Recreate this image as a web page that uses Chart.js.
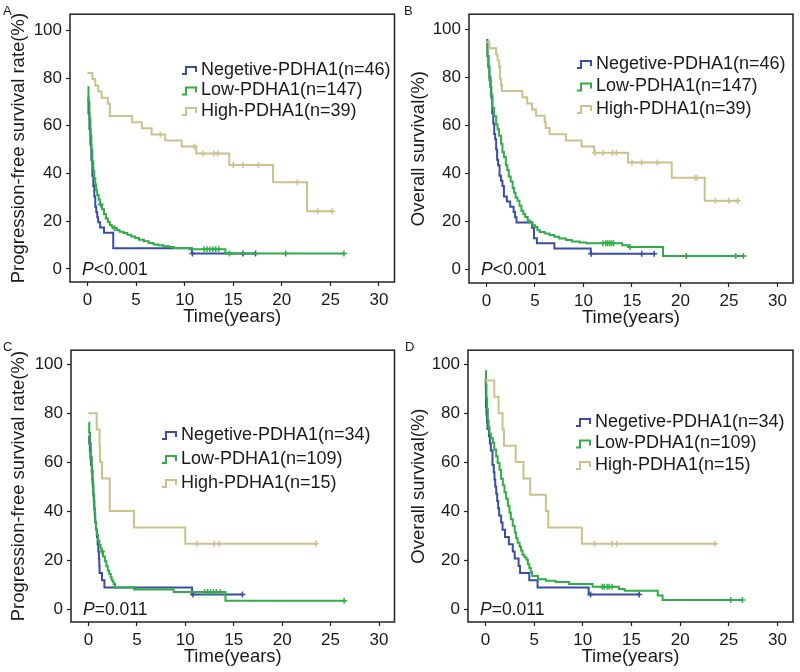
<!DOCTYPE html>
<html>
<head>
<meta charset="utf-8">
<title>PDHA1 survival curves</title>
<script src="https://cdn.jsdelivr.net/npm/chart.js@4.4.1/dist/chart.umd.min.js"></script>
<style>
  body { margin: 0; background: #fff; }
  #wrap { position: relative; width: 800px; height: 672px; }
  canvas { position: absolute; }
</style>
</head>
<body>
<div id="wrap">
  <canvas id="panelA" width="400" height="336" style="left:0;top:0"></canvas>
  <canvas id="panelB" width="400" height="336" style="left:400px;top:0"></canvas>
  <canvas id="panelC" width="400" height="336" style="left:0;top:336px"></canvas>
  <canvas id="panelD" width="400" height="336" style="left:400px;top:336px"></canvas>
</div>
<script>
const xTicks = [0, 5, 10, 15, 20, 25, 30]
const yTicks = [0, 20, 40, 60, 80, 100]

// A: progression-free survival, cohort 1
const aNegT = [0, 0.1, 0.2, 0.3, 0.4, 0.5, 0.6, 0.7, 0.8, 0.9, 1.0, 1.1, 1.3, 1.7, 2.65, 10.75, 17.3]
const aNegS = [71.7, 65.2, 58.7, 52.2, 45.7, 39.1, 34.8, 30.4, 26.1, 23.9, 21.7, 19.6, 17.4, 15.2, 8.7, 6.5, 6.5]
const aNegCens = [10.8, 16.0, 17.3]
const aLowT = [0, 0.1, 0.2, 0.3, 0.4, 0.5, 0.6, 0.7, 0.8, 0.9, 1.0, 1.15, 1.3, 1.5, 1.7, 1.9, 2.1, 2.3, 2.5, 2.7, 3.0, 3.3, 3.7, 4.1, 4.5, 4.9, 5.3, 5.8, 6.3, 6.8, 7.3, 7.8, 8.4, 8.9, 10.5, 14.2, 26.4]
const aLowS = [76.2, 70, 63, 56, 50, 45, 41, 38, 35.4, 33, 31, 29, 27, 25, 23, 21.1, 19.7, 18.4, 17.7, 17.0, 16.3, 15.6, 15.0, 14.3, 13.6, 12.9, 12.2, 11.6, 10.9, 10.2, 9.9, 9.5, 9.2, 8.8, 8.2, 6.5, 6.5]
const aLowCens = [1.35, 2.8, 12.0, 12.3, 12.6, 12.9, 13.2, 13.5, 14.6, 20.4, 26.4]
const aHighT = [0, 0.5, 0.8, 1.1, 1.45, 2.1, 2.3, 4.6, 5.6, 6.6, 8.0, 9.7, 11.2, 14.6, 19.1, 22.6, 25.2]
const aHighS = [82.1, 79.5, 76.9, 74.4, 71.8, 69.2, 64.1, 61.5, 59.0, 56.4, 53.8, 51.3, 48.4, 43.6, 36.3, 24.2, 24.2]
const aHighCens = [7.5, 11.0, 11.9, 13.0, 13.4, 15.0, 16.0, 17.6, 21.6, 23.7, 25.2]

// B: overall survival, cohort 1
const bNegT = [0, 0.1, 0.2, 0.3, 0.4, 0.5, 0.6, 0.7, 0.8, 0.9, 1.0, 1.1, 1.2, 1.35, 1.5, 1.65, 1.8, 2.1, 2.45, 2.8, 2.95, 3.1, 4.7, 4.9, 5.2, 7.0, 10.75, 17.3]
const bNegS = [95.7, 89.1, 84.8, 80.4, 76.1, 71.7, 65.2, 60.9, 56.5, 54.3, 50.0, 45.7, 43.5, 39.1, 37.0, 34.8, 30.4, 28.3, 26.1, 23.9, 21.7, 19.6, 17.4, 13.0, 10.9, 8.7, 6.5, 6.5]
const bNegCens = [10.8, 16.0, 17.3]
const bLowT = [0, 0.1, 0.2, 0.3, 0.45, 0.6, 0.8, 1.0, 1.15, 1.3, 1.5, 1.65, 1.8, 2.0, 2.15, 2.3, 2.5, 2.7, 2.85, 3.0, 3.2, 3.4, 3.6, 3.8, 4.0, 4.25, 4.5, 4.75, 5.0, 5.25, 5.5, 6.0, 6.5, 7.0, 7.5, 8.2, 8.8, 9.6, 10.3, 14.0, 14.6, 18.2, 26.5]
const bLowS = [95.2, 89.1, 84, 79, 72.8, 67.3, 63.9, 60.5, 58.5, 55.8, 52.4, 49.0, 46.9, 43.5, 41.5, 38.8, 36.7, 34.0, 32.0, 30.0, 28.6, 26.5, 24.5, 23.1, 21.8, 20.4, 19.7, 18.4, 17.7, 16.3, 15.6, 15.0, 14.3, 13.6, 12.9, 12.2, 11.6, 11.2, 10.9, 10.1, 9.3, 5.6, 5.6]
const bLowCens = [12.0, 12.3, 12.5, 12.7, 12.9, 13.1, 14.8, 20.6, 25.7, 26.5]
const bHighT = [0, 0.3, 1.0, 1.15, 1.3, 1.4, 1.5, 1.6, 3.7, 4.2, 4.7, 5.1, 6.0, 6.1, 6.5, 8.2, 9.8, 11.1, 14.6, 19.1, 22.5, 26.0]
const bHighS = [94.9, 92.3, 89.7, 87.2, 84.6, 79.5, 76.9, 74.4, 71.8, 69.2, 66.7, 64.1, 61.5, 59.0, 56.4, 53.8, 51.3, 48.7, 44.6, 38.2, 28.6, 28.6]
const bHighCens = [11.2, 12.0, 13.0, 13.4, 15.0, 16.0, 17.6, 21.5, 21.7, 23.6, 25.0, 25.9]

// C: progression-free survival, cohort 2
const cNegT = [0, 0.08, 0.15, 0.2, 0.27, 0.35, 0.4, 0.45, 0.5, 0.55, 0.6, 0.65, 0.7, 0.8, 0.88, 0.95, 1.02, 1.08, 1.12, 1.15, 1.4, 1.65, 10.7, 15.9]
const cNegS = [70.6, 67.6, 64.7, 61.8, 58.8, 55.9, 52.9, 50.0, 47.1, 44.1, 41.2, 38.2, 35.3, 32.4, 29.4, 26.5, 23.5, 20.6, 17.6, 14.7, 11.8, 8.8, 5.9, 5.9]
const cNegCens = [10.8, 15.9]
const cLowT = [0, 0.08, 0.17, 0.25, 0.35, 0.43, 0.51, 0.6, 0.69, 0.78, 0.86, 1.0, 1.13, 1.25, 1.36, 1.5, 1.7, 1.85, 2.0, 2.15, 2.3, 2.4, 2.5, 2.6, 2.75, 4.7, 8.8, 14.15, 26.4]
const cLowS = [76.1, 72, 67.6, 62, 56.9, 51.5, 46.3, 41, 35.6, 32.5, 30.2, 28, 26.2, 24.8, 23.5, 21.5, 19.5, 17.5, 15.6, 14.3, 13.0, 12.0, 11.1, 10.2, 8.8, 8.0, 7.0, 3.4, 3.4]
const cLowCens = [1.4, 12.0, 12.3, 12.6, 12.9, 13.2, 13.6, 26.4]
const cHighT = [0, 0.85, 1.15, 1.2, 1.4, 2.2, 4.7, 10.0, 23.5]
const cHighS = [80, 73.3, 66.7, 60, 53.3, 40, 33.3, 26.7, 26.7]
const cHighCens = [11.2, 13.0, 13.5, 23.5]

// D: overall survival, cohort 2
const dNegT = [0, 0.02, 0.04, 0.05, 0.1, 0.15, 0.2, 0.35, 0.45, 0.55, 0.72, 0.85, 0.92, 1.0, 1.1, 1.2, 1.3, 1.4, 1.6, 1.75, 2.0, 2.4, 2.8, 3.0, 3.4, 3.55, 4.5, 5.35, 10.6, 15.8]
const dNegS = [94.1, 91.2, 88.2, 82.4, 79.4, 76.5, 73.5, 70.6, 67.6, 64.7, 58.8, 55.9, 52.9, 50.0, 47.1, 44.1, 41.2, 38.2, 35.3, 32.4, 29.4, 26.5, 23.5, 20.6, 17.6, 14.7, 11.8, 8.8, 5.9, 5.9]
const dNegCens = [10.8, 15.8]
const dLowT = [0, 0.05, 0.1, 0.17, 0.24, 0.32, 0.41, 0.55, 0.75, 0.9, 1.09, 1.25, 1.44, 1.6, 1.78, 1.95, 2.12, 2.3, 2.46, 2.6, 2.8, 3.0, 3.15, 3.3, 3.5, 3.65, 3.8, 4.0, 4.2, 4.35, 4.5, 4.65, 4.8, 5.4, 6.2, 7.2, 8.6, 11.0, 13.7, 14.3, 17.7, 18.2, 26.4]
const dLowS = [97.2, 91.7, 86.2, 81.7, 77.1, 74.3, 71.6, 69.7, 67.9, 65.1, 62.4, 59.6, 56.9, 53.2, 50.5, 47.7, 45.0, 42.2, 39.4, 36.7, 34.0, 31.2, 28.9, 27.1, 25.5, 23.9, 22.2, 21.1, 20.2, 18.3, 16.8, 15.0, 13.5, 12.2, 11.5, 11.0, 10.2, 9.1, 8.2, 7.5, 5.5, 3.7, 3.7]
const dLowCens = [12.0, 12.2, 12.5, 12.7, 13.0, 25.2, 26.4]
const dHighT = [0, 0.9, 1.35, 1.75, 1.9, 3.1, 3.9, 4.6, 6.2, 6.45, 9.9, 23.6]
const dHighS = [93.3, 86.7, 80, 73.3, 66.7, 60, 53.3, 46.7, 40, 33.3, 26.7, 26.7]
const dHighCens = [11.2, 13.0, 13.5, 23.6]

const labels1 = ['Negetive-PDHA1(n=46)', 'Low-PDHA1(n=147)', 'High-PDHA1(n=39)']
const labels2 = ['Negetive-PDHA1(n=34)', 'Low-PDHA1(n=109)', 'High-PDHA1(n=15)']

const BLUE = '#3a4da6'
const GREEN = '#30ad46'
const TAN = '#cbc28b'
const INK = '#1a1a1a'
const FONT = '"Liberation Sans", Arial, sans-serif'

const steps = (ts, ss) => ts.map((t, i) => ({ x: t, y: ss[i] }))

// censor marks sit on the curve: look up the step value at that time
const survAt = (t, ts, ss) => {
  let v = ss[0]
  for (let i = 0; i < ts.length; i++) if (ts[i] <= t) v = ss[i]
  return v
}
const marks = (cens, ts, ss) => cens.map(t => ({ x: t, y: survAt(t, ts, ss) }))

const curve = (ts, ss, color) => ({
  data: steps(ts, ss), showLine: true, stepped: 'before',
  borderColor: color, borderWidth: 2, pointRadius: 0, fill: false
})
const censor = (cens, ts, ss, color) => ({
  data: marks(cens, ts, ss), showLine: false, pointStyle: 'cross',
  pointRadius: 3, borderColor: color, borderWidth: 1.5
})

// frame, panel letter, P value and legend
const notes = {
  id: 'notes',
  afterDatasetsDraw(chart, args, o) {
    const { ctx, chartArea: a, scales: { y } } = chart
    ctx.save()
    ctx.strokeStyle = '#222'
    ctx.lineWidth = 1.5
    ctx.strokeRect(a.left, a.top, a.right - a.left, a.bottom - a.top)

    ctx.fillStyle = INK
    ctx.textBaseline = 'alphabetic'
    ctx.font = '13px ' + FONT
    ctx.fillText(o.letter, o.letterX, 15)

    ctx.textBaseline = 'middle'
    const py = y.getPixelForValue(0) + 1
    ctx.font = 'italic 17.5px ' + FONT
    ctx.fillText('P', a.left + 12, py)
    const pw = ctx.measureText('P').width
    ctx.font = '17.5px ' + FONT
    ctx.fillText(o.pText, a.left + 12 + pw, py)

    const cols = [BLUE, GREEN, TAN]
    ctx.font = '18px ' + FONT
    o.labels.forEach((lab, i) => {
      const ly = o.legY + i * o.legGap
      const lx = o.legX
      ctx.strokeStyle = cols[i]
      ctx.lineWidth = 2
      ctx.beginPath()
      ctx.moveTo(lx, ly + 4)
      ctx.lineTo(lx + 4, ly + 4)
      ctx.lineTo(lx + 4, ly - 3)
      ctx.lineTo(lx + 14, ly - 3)
      ctx.lineTo(lx + 14, ly + 2)
      ctx.stroke()
      ctx.fillStyle = INK
      ctx.fillText(lab, lx + 19, ly)
    })
    ctx.restore()
  }
}

const makePanel = (id, p) => {
  const tickFont = { family: FONT, size: 17 }
  const titleFont = { family: FONT, size: 18.5 }
  const xH = 49
  new Chart(document.getElementById(id), {
    type: 'scatter',
    data: {
      datasets: [
        curve(p.high[0], p.high[1], TAN),
        censor(p.high[2], p.high[0], p.high[1], TAN),
        curve(p.low[0], p.low[1], GREEN),
        censor(p.low[2], p.low[0], p.low[1], GREEN),
        curve(p.neg[0], p.neg[1], BLUE),
        censor(p.neg[2], p.neg[0], p.neg[1], BLUE),
      ]
    },
    options: {
      responsive: false,
      animation: false,
      layout: { padding: { left: 0, top: p.box.t, right: 400 - p.box.r, bottom: 336 - p.box.b - xH } },
      scales: {
        x: {
          type: 'linear', min: -1.8, max: 31.6,
          afterBuildTicks: s => { s.ticks = xTicks.map(v => ({ value: v })) },
          afterFit: s => { s.height = xH },
          ticks: { font: tickFont, color: INK, padding: 4, autoSkip: false, maxRotation: 0 },
          grid: { display: true, drawOnChartArea: false, drawTicks: true, tickLength: 4, tickColor: '#222', tickWidth: 1.2 },
          border: { display: false },
          title: { display: true, text: 'Time(years)', color: INK, font: titleFont, padding: { top: 0, bottom: 3 } }
        },
        y: {
          min: p.yMin, max: p.yMax,
          afterBuildTicks: s => { s.ticks = yTicks.map(v => ({ value: v })) },
          afterFit: s => { s.width = p.box.l },
          ticks: { font: tickFont, color: INK, padding: 4 },
          grid: { display: true, drawOnChartArea: false, drawTicks: true, tickLength: 4, tickColor: '#222', tickWidth: 1.2 },
          border: { display: false },
          title: { display: true, text: p.yTitle, color: INK, font: titleFont, padding: { top: 8, bottom: 0 } }
        }
      },
      plugins: {
        legend: { display: false },
        tooltip: { enabled: false },
        notes: { letter: p.letter, letterX: p.letterX, pText: p.pText, labels: p.labels, legX: p.leg[0], legY: p.leg[1], legGap: p.leg[2] }
      }
    },
    plugins: [notes]
  })
}

makePanel('panelA', {
  letter: 'A', letterX: 3, yTitle: 'Progression-free survival rate(%)', pText: '<0.001', labels: labels1,
  box: { l: 70, t: 2, r: 397, b: 282 }, yMin: -5.5, yMax: 106.8, leg: [182, 70, 20.5],
  neg: [aNegT, aNegS, aNegCens], low: [aLowT, aLowS, aLowCens], high: [aHighT, aHighS, aHighCens]
})
makePanel('panelB', {
  letter: 'B', letterX: 4, yTitle: 'Overall survival(%)', pText: '<0.001', labels: labels1,
  box: { l: 69, t: 2, r: 393, b: 283 }, yMin: -5.7, yMax: 106.5, leg: [177, 64, 22.5],
  neg: [bNegT, bNegS, bNegCens], low: [bLowT, bLowS, bLowCens], high: [bHighT, bHighS, bHighCens]
})
makePanel('panelC', {
  letter: 'C', letterX: 3, yTitle: 'Progression-free survival rate(%)', pText: '=0.011', labels: labels2,
  box: { l: 71, t: 9, r: 397, b: 286 }, yMin: -5.3, yMax: 105.7, leg: [162, 99, 24],
  neg: [cNegT, cNegS, cNegCens], low: [cLowT, cLowS, cLowCens], high: [cHighT, cHighS, cHighCens]
})
makePanel('panelD', {
  letter: 'D', letterX: 5, yTitle: 'Overall survival(%)', pText: '=0.011', labels: labels2,
  box: { l: 68, t: 9, r: 393, b: 286 }, yMin: -5.3, yMax: 105.7, leg: [176, 86, 21.5],
  neg: [dNegT, dNegS, dNegCens], low: [dLowT, dLowS, dLowCens], high: [dHighT, dHighS, dHighCens]
})
</script>
</body>
</html>
